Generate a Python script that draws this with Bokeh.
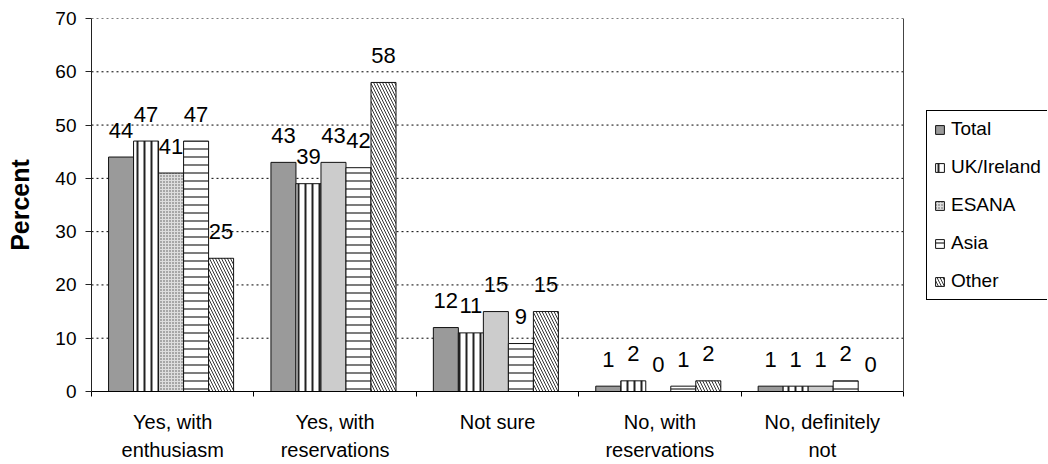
from bokeh.plotting import figure
from bokeh.models import ColumnDataSource, Range1d, FixedTicker, Span, Legend, LegendItem
from bokeh.transform import dodge
from bokeh.core.properties import value
from bokeh.embed import file_html
from bokeh.resources import INLINE

# ---- data ----
categories = ["Yes, with\nenthusiasm", "Yes, with\nreservations", "Not sure",
              "No, with\nreservations", "No, definitely\nnot"]
series = ["Total", "UK/Ireland", "ESANA", "Asia", "Other"]
total = [44, 43, 12, 1, 1]
uk_ireland = [47, 39, 11, 2, 1]
esana = [41, 43, 15, 0, 1]
asia = [47, 42, 9, 1, 2]
other = [25, 58, 15, 2, 0]
y_ticks = [0, 10, 20, 30, 40, 50, 60, 70]
y_label = "Percent"

values = [total, uk_ireland, esana, asia, other]

# ---- styles / layout ----
FONT = "Liberation Sans"
W, H = 1048, 464
LEFT, RIGHT, TOP, BOTTOM = 91, 1, 18, 73
PLOT_PX = 812          # width of the bar area in pixels
bar_w = 0.154
group_shift = -0.01
esana_fill = ["#dedede", "#cccccc", "#cccccc", "#cccccc", "#cccccc"]
esana_hatch = ["dot", " ", " ", " ", " "]
styles = [
    dict(fill_color="#9a9a9a"),
    dict(fill_color="white", hatch_pattern="vertical_line", hatch_color="#222222",
         hatch_scale=7, hatch_weight=2),
    dict(fill_color="esana_fill", hatch_pattern="esana_hatch", hatch_color="#555555",
         hatch_scale=3, hatch_weight=1),
    dict(fill_color="white", hatch_pattern="horizontal_line", hatch_color="#222222",
         hatch_scale=8, hatch_weight=1.2),
    dict(fill_color="white", hatch_pattern="\\", hatch_color="#333333",
         hatch_scale=6, hatch_weight=1.0),
]

n = len(categories)
centres = [i + 0.5 for i in range(n)]
bounds = [i for i in range(n + 1)]
frame_px = W - LEFT - RIGHT
x_max = n * frame_px / PLOT_PX

data = dict(x=centres, esana_fill=esana_fill, esana_hatch=esana_hatch)
for j, vals in enumerate(values):
    data[f"s{j}"] = vals
    data[f"t{j}"] = [str(v) for v in vals]
src = ColumnDataSource(data)

p = figure(width=W, height=H, output_backend="svg", toolbar_location=None,
           x_range=Range1d(0, x_max), y_range=Range1d(0, 70),
           min_border_left=LEFT, min_border_right=RIGHT, min_border_top=TOP,
           min_border_bottom=BOTTOM)
p.outline_line_color = None
p.background_fill_color = "white"

# dotted gridlines across the bar area only
p.xgrid.visible = False
p.ygrid.visible = False
grid_src = ColumnDataSource(dict(y=y_ticks[1:], x0=[0] * (len(y_ticks) - 1),
                                 x1=[n] * (len(y_ticks) - 1)))
p.segment(x0="x0", x1="x1", y0="y", y1="y", source=grid_src,
          line_color="#000000", line_dash="2 3", line_width=1)

renderers = []
for j, name in enumerate(series):
    off = (j - 2) * bar_w + group_shift
    r = p.vbar(x=dodge("x", off), top=f"s{j}", width=bar_w, bottom=0, source=src,
               line_color="#111111", line_width=1, **styles[j])
    renderers.append(r)
    p.text(x=dodge("x", off), y=f"s{j}", text=f"t{j}", source=src,
           text_align="center", text_baseline="alphabetic", y_offset=-27,
           text_font=value(FONT), text_font_size="22px", text_color="black")

# axes
p.xaxis.bounds = (0, n)
p.xaxis.ticker = FixedTicker(ticks=centres, minor_ticks=bounds)
p.xaxis.major_label_overrides = {c: lab for c, lab in zip(centres, categories)}
p.xaxis.major_tick_out = 0
p.xaxis.major_tick_in = 0
p.xaxis.minor_tick_out = 5
p.xaxis.minor_tick_in = 0
p.xaxis.minor_tick_line_color = "black"
p.xaxis.axis_line_color = "black"
p.xaxis.major_label_text_font = FONT
p.xaxis.major_label_text_font_size = "20px"
p.xaxis.major_label_text_line_height = 1.3
p.xaxis.major_label_standoff = 14
p.xaxis.major_label_text_color = "black"

p.yaxis.ticker = FixedTicker(ticks=y_ticks)
p.yaxis.minor_tick_line_color = None
p.yaxis.major_tick_out = 6
p.yaxis.major_tick_in = 0
p.yaxis.axis_line_color = "#222222"
p.yaxis.major_tick_line_color = "#222222"
p.yaxis.major_label_text_font = FONT
p.yaxis.major_label_text_font_size = "19px"
p.yaxis.major_label_standoff = 9
p.yaxis.major_label_text_color = "black"
p.yaxis.axis_label = y_label
p.yaxis.axis_label_text_font = FONT
p.yaxis.axis_label_text_font_style = "bold"
p.yaxis.axis_label_text_font_size = "25px"
p.yaxis.axis_label_standoff = 18
p.yaxis.axis_label_text_color = "black"

# right border of the bar area
p.add_layout(Span(location=n, dimension="height", line_color="#444444", line_width=1))

items = [LegendItem(label=name, renderers=[r], index=0) for name, r in zip(series, renderers)]
legend = Legend(items=items, location=(835, 91), orientation="vertical",
                border_line_color="black", border_line_width=1, border_line_alpha=1,
                background_fill_color="white", background_fill_alpha=1,
                label_text_font=FONT, label_text_font_size="19px",
                label_text_color="black",
                glyph_width=11, glyph_height=11, label_standoff=6,
                padding=7, spacing=16, margin=0, label_height=22)
p.add_layout(legend, "center")

open("out.html", "w").write(file_html(p, INLINE))
